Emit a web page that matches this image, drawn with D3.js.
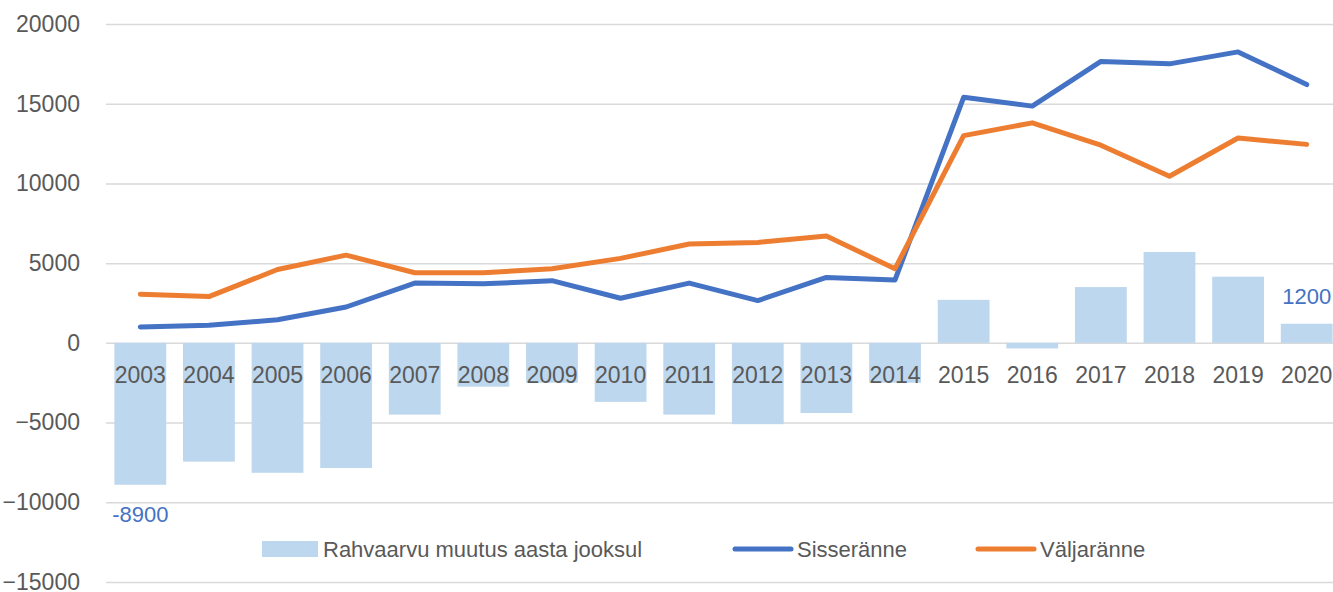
<!DOCTYPE html>
<html>
<head>
<meta charset="utf-8">
<script src="https://cdn.jsdelivr.net/npm/d3@7"></script>
<style>
  body { margin: 0; background: #fff; }
  text { font-family: "Liberation Sans", Arial, sans-serif; }
</style>
</head>
<body>
<div id="chart"></div>
<script>
const WIDTH = 1333;
const HEIGHT = 592;
const PLOT_LEFT = 106;
const PLOT_RIGHT = 1341;
const PLOT_TOP = 24;
const PLOT_BOTTOM = 582;

var years = ['2003','2004','2005','2006','2007','2008','2009','2010','2011',
             '2012','2013','2014','2015','2016','2017','2018','2019','2020'];
var change = [-8900, -7450, -8150, -7850, -4500, -2750, -2500, -3700, -4500,
              -5100, -4400, -2500, 2700, -350, 3500, 5700, 4150, 1200];
var immigration = [1000, 1100, 1450, 2250, 3750, 3700, 3900, 2800, 3750,
                   2650, 4100, 3950, 15400, 14850, 17650, 17500, 18250, 16200];
var emigration = [3050, 2900, 4600, 5500, 4400, 4400, 4650, 5300, 6200,
                  6300, 6700, 4650, 13000, 13800, 12400, 10450, 12850, 12450];
var yTicks = [-15000, -10000, -5000, 0, 5000, 10000, 15000, 20000];
var seriesNames = ['Rahvaarvu muutus aasta jooksul', 'Sisseränne', 'Väljaränne'];

var BAR_COLOR = '#BDD7EE';
var BLUE = '#4472C4';
var ORANGE = '#ED7D31';
var TEXT_COLOR = '#595959';

var loadChart = function () {
  var svg = d3.select('#chart').append('svg')
    .attr('width', WIDTH)
    .attr('height', HEIGHT);

  var xScale = d3.scaleBand()
    .domain(years)
    .range([PLOT_LEFT, PLOT_RIGHT])
    .paddingInner(0.245)
    .paddingOuter(0.1225);

  var yScale = d3.scaleLinear()
    .domain([-15000, 20000])
    .range([PLOT_BOTTOM, PLOT_TOP]);

  // gridlines + y labels
  var yAxis = d3.axisLeft(yScale)
    .tickValues(yTicks)
    .tickSize(-(WIDTH - PLOT_LEFT))
    .tickPadding(26)
    .tickFormat(d3.format('d'));

  var gy = svg.append('g')
    .attr('transform', 'translate(' + PLOT_LEFT + ',0)')
    .call(yAxis);
  gy.select('.domain').remove();
  gy.selectAll('.tick line')
    .attr('stroke', '#D9D9D9')
    .attr('stroke-width', 1.5);
  gy.selectAll('.tick text')
    .attr('fill', TEXT_COLOR)
    .style('font-size', '23px');

  // bars
  svg.selectAll('rect.bar')
    .data(years)
    .enter()
    .append('rect')
    .attr('class', 'bar')
    .attr('x', function (d) { return xScale(d); })
    .attr('y', function (d, i) { return yScale(Math.max(0, change[i])); })
    .attr('width', xScale.bandwidth())
    .attr('height', function (d, i) { return Math.abs(yScale(change[i]) - yScale(0)); })
    .attr('fill', BAR_COLOR);

  // category labels sitting under the zero line
  var xAxis = d3.axisBottom(xScale).tickSize(0).tickPadding(24);
  var gx = svg.append('g')
    .attr('transform', 'translate(0,' + yScale(0) + ')')
    .call(xAxis);
  gx.select('.domain').remove();
  gx.selectAll('.tick text')
    .attr('fill', TEXT_COLOR)
    .style('font-size', '23px');

  var line = function (values) {
    return d3.line()
      .x(function (d, i) { return xScale(years[i]) + xScale.bandwidth() / 2; })
      .y(function (d) { return yScale(d); })(values);
  };

  svg.append('path')
    .attr('d', line(immigration))
    .attr('fill', 'none')
    .attr('stroke', BLUE)
    .attr('stroke-width', 5)
    .attr('stroke-linejoin', 'round')
    .attr('stroke-linecap', 'round');

  svg.append('path')
    .attr('d', line(emigration))
    .attr('fill', 'none')
    .attr('stroke', ORANGE)
    .attr('stroke-width', 5)
    .attr('stroke-linejoin', 'round')
    .attr('stroke-linecap', 'round');

  // data labels for first and last bar
  var first = 0, last = years.length - 1;
  svg.append('text')
    .attr('x', xScale(years[first]) + xScale.bandwidth() / 2)
    .attr('y', yScale(change[first]) + 37)
    .attr('text-anchor', 'middle')
    .attr('fill', BLUE)
    .style('font-size', '22px')
    .text(change[first]);
  svg.append('text')
    .attr('x', xScale(years[last]) + xScale.bandwidth() / 2)
    .attr('y', yScale(change[last]) - 20)
    .attr('text-anchor', 'middle')
    .attr('fill', BLUE)
    .style('font-size', '22px')
    .text(change[last]);

  // legend
  var legend = svg.append('g').attr('transform', 'translate(0,549)');
  legend.append('rect')
    .attr('x', 262).attr('y', -8)
    .attr('width', 56).attr('height', 16)
    .attr('fill', BAR_COLOR);
  legend.append('text')
    .attr('x', 323).attr('y', 8)
    .attr('fill', TEXT_COLOR)
    .style('font-size', '22px')
    .text(seriesNames[0]);

  legend.append('line')
    .attr('x1', 735).attr('x2', 791)
    .attr('stroke', BLUE).attr('stroke-width', 5)
    .attr('stroke-linecap', 'round');
  legend.append('text')
    .attr('x', 797).attr('y', 8)
    .attr('fill', TEXT_COLOR)
    .style('font-size', '22px')
    .text(seriesNames[1]);

  legend.append('line')
    .attr('x1', 978).attr('x2', 1034)
    .attr('stroke', ORANGE).attr('stroke-width', 5)
    .attr('stroke-linecap', 'round');
  legend.append('text')
    .attr('x', 1040).attr('y', 8)
    .attr('fill', TEXT_COLOR)
    .style('font-size', '22px')
    .text(seriesNames[2]);
};

window.onload = loadChart;
</script>
</body>
</html>
